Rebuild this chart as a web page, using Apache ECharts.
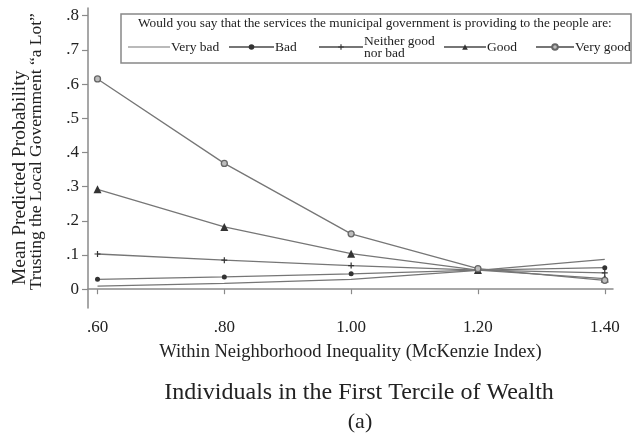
<!DOCTYPE html>
<html>
<head>
<meta charset="utf-8">
<script src="https://cdn.jsdelivr.net/npm/echarts@6/dist/echarts.min.js"></script>
<style>
  html, body { margin: 0; padding: 0; background: #fff; }
  #chart { width: 634px; height: 436px; }
</style>
</head>
<body>
<div id="chart"></div>
<script>
// Inequality levels (McKenzie index) on the x axis
const inequality = [0.6, 0.8, 1.0, 1.2, 1.4];
const xTicks = [0.6, 0.8, 1.0, 1.2, 1.4];
const xTickLabels = ['.60', '.80', '1.00', '1.20', '1.40'];
const yTicks = [0, 0.1, 0.2, 0.3, 0.4, 0.5, 0.6, 0.7, 0.8];
const yTickLabels = ['0', '.1', '.2', '.3', '.4', '.5', '.6', '.7', '.8'];

// Mean predicted probability of trusting the local government "a lot"
const veryBad = [0.009, 0.017, 0.029, 0.055, 0.087];
const bad = [0.029, 0.036, 0.045, 0.056, 0.063];
const neither = [0.103, 0.085, 0.069, 0.056, 0.048];
const good = [0.292, 0.182, 0.104, 0.056, 0.031];
const veryGood = [0.615, 0.368, 0.162, 0.060, 0.026];

const seriesNames = ['Very bad', 'Bad', 'Neither good nor bad', 'Good', 'Very good'];
const legendLabels = ['Very bad', 'Bad', 'Neither good\nnor bad', 'Good', 'Very good'];

const FONT = '"Liberation Serif", "DejaVu Serif", serif';
const LINE = '#767676';
const MARK = '#333333';
const AXIS = '#8a8a8a';

const plusPath = 'path://M4,0 L6,0 L6,4 L10,4 L10,6 L6,6 L6,10 L4,10 L4,6 L0,6 L0,4 L4,4 Z';

function pairs(vals) {
  return inequality.map((x, i) => [x, vals[i]]);
}

function lineSeries(name, vals, symbol, size, style) {
  return {
    name: name,
    type: 'line',
    data: pairs(vals),
    symbol: symbol,
    symbolSize: size,
    showSymbol: symbol !== 'none',
    lineStyle: { color: LINE, width: 1.3 },
    itemStyle: style,
    emphasis: { disabled: true },
    z: 3
  };
}

const series = [
  lineSeries(seriesNames[0], veryBad, 'none', 0, { color: LINE }),
  lineSeries(seriesNames[1], bad, 'circle', 5, { color: MARK }),
  lineSeries(seriesNames[2], neither, plusPath, 6, { color: MARK }),
  lineSeries(seriesNames[3], good, 'triangle', 8, { color: MARK }),
  lineSeries(seriesNames[4], veryGood, 'circle', 6, { color: '#bdbdbd', borderColor: '#666', borderWidth: 1.3 })
];

// One legend entry per component so each sits at its own spot inside the box
const legendLefts = [128, 228, 318, 443, 535];
const legendWidths = [42, 45, 44, 42, 38];
const legends = seriesNames.map((name, i) => {
  const lg = {
    data: [name],
    left: legendLefts[i],
    top: i === 2 ? 34 : 40,
    padding: 0,
    itemWidth: legendWidths[i],
    itemHeight: 7,
    itemGap: 0,
    z: 10,
    selectedMode: false,
    formatter: () => legendLabels[i],
    textStyle: {
      fontFamily: FONT, fontSize: 13.5, color: '#222',
      lineHeight: 12, padding: [0, 0, 0, -4]
    }
  };
  if (i === 0) {
    // plain line swatch for the unmarked series
    lg.icon = 'path://M0,0 L44,0 L44,1 L0,1 Z';
    lg.itemHeight = 1.3;
    lg.itemStyle = { color: LINE };
  }
  return lg;
});

const chart = echarts.init(document.getElementById('chart'), null, { renderer: 'canvas' });

chart.setOption({
  backgroundColor: '#fff',
  animation: false,
  grid: { left: 88, right: 21, top: 8, bottom: 128, containLabel: false },
  xAxis: {
    type: 'value',
    min: 0.585,
    max: 1.413,
    axisLine: { lineStyle: { color: AXIS, width: 1.5 } },
    axisTick: { show: true, length: 5, customValues: xTicks, lineStyle: { color: AXIS, width: 1.2 } },
    axisLabel: {
      customValues: xTicks,
      margin: 11,
      fontFamily: FONT, fontSize: 17, color: '#222',
      formatter: v => xTickLabels[xTicks.findIndex(t => Math.abs(t - v) < 1e-6)]
    },
    splitLine: { show: false },
    name: 'Within Neighborhood Inequality (McKenzie Index)',
    nameLocation: 'middle',
    nameGap: 35,
    nameTextStyle: { fontFamily: FONT, fontSize: 18.5, color: '#222' }
  },
  yAxis: {
    type: 'value',
    min: -0.055,
    max: 0.8225,
    axisLine: { show: true, lineStyle: { color: AXIS, width: 1.5 } },
    axisTick: { show: true, length: 6, customValues: yTicks, lineStyle: { color: AXIS, width: 1.2 } },
    axisLabel: {
      customValues: yTicks,
      margin: 9,
      fontFamily: FONT, fontSize: 17, color: '#222',
      formatter: v => yTickLabels[yTicks.findIndex(t => Math.abs(t - v) < 1e-6)]
    },
    splitLine: { show: false }
  },
  legend: legends,
  series: series,
  graphic: [
    {
      type: 'rect',
      shape: { x: 121, y: 14, width: 510, height: 49 },
      style: { fill: '#fff', stroke: '#888', lineWidth: 1.5 },
      z: 2
    },
    {
      type: 'text',
      left: 138, top: 17,
      style: {
        text: 'Would you say that the services the municipal government is providing to the people are:',
        font: '13.3px ' + FONT, fill: '#222'
      },
      z: 6
    },
    {
      type: 'text',
      x: 20, y: 285,
      rotation: Math.PI / 2,
      style: {
        text: 'Mean Predicted Probability',
        font: '19.5px ' + FONT, fill: '#222',
        align: 'left', verticalAlign: 'middle'
      }
    },
    {
      type: 'text',
      x: 36, y: 290,
      rotation: Math.PI / 2,
      style: {
        text: 'Trusting the Local Government \u201Ca Lot\u201D',
        font: '17.5px ' + FONT, fill: '#222',
        align: 'left', verticalAlign: 'middle'
      }
    },
    {
      type: 'text',
      x: 359, y: 393,
      style: {
        text: 'Individuals in the First Tercile of Wealth',
        font: '24px ' + FONT, fill: '#222',
        align: 'center', verticalAlign: 'middle'
      }
    },
    {
      type: 'text',
      x: 360, y: 422,
      style: {
        text: '(a)',
        font: '22px ' + FONT, fill: '#222',
        align: 'center', verticalAlign: 'middle'
      }
    }
  ]
});
</script>
</body>
</html>
